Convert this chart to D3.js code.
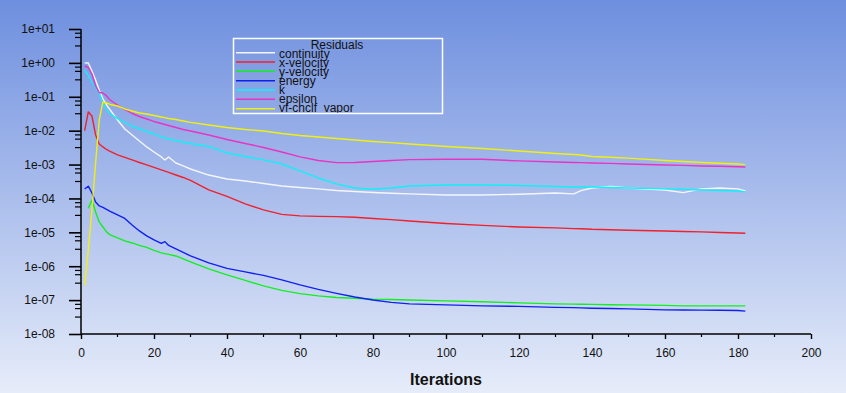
<!DOCTYPE html>
<html>
<head>
<meta charset="utf-8">
<script src="https://cdn.jsdelivr.net/npm/d3@7"></script>
<style>
  html, body { margin: 0; padding: 0; overflow: hidden; }
  svg { display: block; font-family: "Liberation Sans", Arial, sans-serif; }
</style>
</head>
<body>
<svg id="chart" width="846" height="393"></svg>
<script>
// ---------- data ----------
const iterations = [1,2,3,4,5,6,7,8,10,12,14,16,18,20,22,23,24,26,28,30,35,40,45,50,55,60,65,70,75,80,85,90,100,110,120,130,135,137,140,145,150,160,165,170,175,180,182];

const continuity = [1.0,0.99,0.577,0.313,0.159,0.0861,0.0573,0.0408,0.0207,0.0112,0.00747,0.00497,0.00331,0.00235,0.00168,0.00137,0.00168,0.00111,0.00091,0.00074,0.00049,0.000376,0.000328,0.000277,0.000234,0.000211,0.000191,0.000172,0.000161,0.000150,0.000142,0.000136,0.000127,0.000127,0.000133,0.000145,0.000136,0.000170,0.000204,0.000226,0.000204,0.000178,0.000148,0.000191,0.000204,0.000191,0.000166];

const xVelocity = [0.0100,0.0356,0.0271,0.00747,0.00405,0.00331,0.00279,0.00243,0.00192,0.00162,0.00137,0.00115,0.000973,0.000821,0.000693,0.000638,0.000585,0.000493,0.000416,0.000340,0.000178,0.000115,6.89e-5,4.58e-5,3.38e-5,3.05e-5,2.95e-5,2.91e-5,2.79e-5,2.57e-5,2.37e-5,2.17e-5,1.83e-5,1.60e-5,1.44e-5,1.35e-5,1.29e-5,1.28e-5,1.23e-5,1.19e-5,1.15e-5,1.10e-5,1.06e-5,1.03e-5,9.93e-6,9.60e-6,9.40e-6];

const yVelocity = [null,5.14e-5,9.03e-5,4.0e-5,2.03e-5,1.44e-5,1.03e-5,8.38e-6,6.84e-6,5.57e-6,4.86e-6,4.11e-6,3.59e-6,2.92e-6,2.47e-6,2.35e-6,2.23e-6,2.01e-6,1.64e-6,1.34e-6,8.32e-7,5.53e-7,3.81e-7,2.62e-7,1.93e-7,1.55e-7,1.33e-7,1.20e-7,1.14e-7,1.07e-7,1.04e-7,1.01e-7,9.47e-8,8.97e-8,8.27e-8,7.73e-8,7.6e-8,7.55e-8,7.46e-8,7.3e-8,7.22e-8,6.98e-8,6.74e-8,6.74e-8,6.74e-8,6.74e-8,6.74e-8];

const energy = [1.9e-4,2.3e-4,1.45e-4,7.89e-5,6.01e-5,5.43e-5,4.74e-5,4.14e-5,3.26e-5,2.57e-5,1.65e-5,1.10e-5,7.83e-6,5.97e-6,4.71e-6,5.32e-6,4.11e-6,3.24e-6,2.55e-6,2.01e-6,1.25e-6,8.61e-7,6.79e-7,5.35e-7,3.94e-7,2.81e-7,2.07e-7,1.58e-7,1.24e-7,1.01e-7,8.55e-8,7.73e-8,7.22e-8,6.74e-8,6.52e-8,6.09e-8,6.01e-8,5.9e-8,5.77e-8,5.65e-8,5.50e-8,5.14e-8,5.1e-8,5.07e-8,5.0e-8,4.93e-8,4.74e-8];

const kResid = [0.617,0.425,0.273,0.182,0.129,0.0656,0.0408,0.0311,0.0226,0.0177,0.0135,0.0114,0.00947,0.00799,0.00652,0.00609,0.00569,0.00514,0.00464,0.00419,0.00342,0.00220,0.00173,0.00137,0.00104,0.000648,0.000402,0.000268,0.000204,0.000187,0.000204,0.000234,0.000250,0.000250,0.000242,0.000226,0.000218,0.000218,0.000218,0.000211,0.000204,0.000191,0.000187,0.000178,0.000172,0.000166,0.000156];

const epsilon = [0.810,0.732,0.471,0.208,0.134,0.129,0.106,0.0805,0.0573,0.0422,0.0321,0.0262,0.0221,0.0187,0.0163,0.0152,0.0142,0.0124,0.0108,0.00979,0.00747,0.00550,0.00419,0.00319,0.00235,0.00168,0.00132,0.00114,0.00115,0.00123,0.00132,0.00140,0.00143,0.00143,0.00128,0.00119,0.00115,0.00114,0.00111,0.00108,0.00104,0.000973,0.000946,0.000910,0.000891,0.000861,0.000849];

const vfVapor = [2.8e-7,2.99e-6,4.52e-5,0.00111,0.0207,0.0703,0.0656,0.0593,0.0535,0.0437,0.0381,0.0333,0.0311,0.0281,0.0254,0.0242,0.0229,0.0214,0.0193,0.0175,0.0147,0.0124,0.0108,0.00979,0.00826,0.00721,0.00652,0.00589,0.00532,0.00480,0.00443,0.00405,0.00342,0.00299,0.00252,0.00212,0.00199,0.00192,0.00173,0.00164,0.00155,0.00132,0.00123,0.00115,0.00109,0.00104,0.000993];

const seriesNames = ["continuity","x-velocity","y-velocity","energy","k","epsilon","vf-chclf_vapor"];
const seriesColors = ["#f4f6fc","#f0202c","#10f020","#1020f0","#10f0f8","#e834c4","#f0f010"];
const seriesValues = [continuity, xVelocity, yVelocity, energy, kResid, epsilon, vfVapor];

const xTickValues = [0,20,40,60,80,100,120,140,160,180,200];
const xMinorTickValues = [10,30,50,70,90,110,130,150,170,190];
const yTickValues = [10,1,1e-1,1e-2,1e-3,1e-4,1e-5,1e-6,1e-7,1e-8];
const yTickLabels = ["1e+01","1e+00","1e-01","1e-02","1e-03","1e-04","1e-05","1e-06","1e-07","1e-08"];
const legendTitle = "Residuals";
const xAxisTitle = "Iterations";

// ---------- drawing ----------
const svg = d3.select("#chart");
const W = 846, H = 393;

const defs = svg.append("defs");
const grad = defs.append("linearGradient").attr("id","bg").attr("x1",0).attr("y1",0).attr("x2",0).attr("y2",1);
grad.append("stop").attr("offset","0%").attr("stop-color","#6e8fdf");
grad.append("stop").attr("offset","100%").attr("stop-color","#e6ecf9");
svg.append("rect").attr("width",W).attr("height",H).attr("fill","url(#bg)");

const x = d3.scaleLinear().domain([0,200]).range([81,811]);
const y = d3.scaleLog().domain([1e-8,10]).range([334,29]);

// series lines
const line = d3.line()
  .defined(d => d[1] != null)
  .x(d => x(d[0]))
  .y(d => y(d[1]));

seriesValues.forEach((vals, i) => {
  const pts = iterations.map((it, j) => [it, vals[j]]);
  svg.append("path")
    .datum(pts)
    .attr("fill","none")
    .attr("stroke", seriesColors[i])
    .attr("stroke-width", 1.4)
    .attr("stroke-linejoin","round")
    .attr("d", line);
});

// Y axis
const yAxis = d3.axisLeft(y).tickValues(yTickValues).tickSize(12)
  .tickFormat((d,i) => yTickLabels[i]).tickPadding(14);
const gy = svg.append("g").attr("transform","translate(81,0)").call(yAxis);
gy.select(".domain").attr("stroke","#000").attr("stroke-width",1.5).attr("d","M0,29V334");
gy.selectAll(".tick line").attr("stroke","#000").attr("stroke-width",1.6);
gy.selectAll(".tick text").attr("fill","#111").attr("font-size","12px")
  .attr("font-family",'"Liberation Sans", Arial, sans-serif');

// minor y ticks at 1/8, 1/4, 1/2 of each decade below each major
const minorY = [];
yTickValues.slice(0,-1).forEach(v => {
  [0.125,0.25,0.5].forEach(f => minorY.push(v * Math.pow(10,-f)));
});
svg.append("g").selectAll("line").data(minorY).join("line")
  .attr("x1",75).attr("x2",81)
  .attr("y1",d => y(d)).attr("y2",d => y(d))
  .attr("stroke","#000").attr("stroke-width",1.2);

// X axis
const xAxis = d3.axisBottom(x).tickValues(xTickValues).tickSize(5).tickPadding(9);
const gx = svg.append("g").attr("transform","translate(0,334)").call(xAxis);
gx.select(".domain").attr("stroke","#000").attr("stroke-width",1.5).attr("d","M81,0H811");
gx.selectAll(".tick line").attr("stroke","#000").attr("stroke-width",1.4);
gx.selectAll(".tick text").attr("fill","#111").attr("font-size","12px")
  .attr("font-family",'"Liberation Sans", Arial, sans-serif');
svg.append("g").selectAll("line").data(xMinorTickValues).join("line")
  .attr("x1",d => x(d)).attr("x2",d => x(d))
  .attr("y1",334).attr("y2",337)
  .attr("stroke","#000").attr("stroke-width",1.2);

// X title
svg.append("text").attr("x",446).attr("y",385).attr("text-anchor","middle")
  .attr("font-size","16px").attr("font-weight","bold").attr("fill","#111")
  .text(xAxisTitle);

// Legend
const lg = { x: 233.5, y: 38.5, w: 209, h: 75 };
defs.append("clipPath").attr("id","legclip").append("rect")
  .attr("x",lg.x).attr("y",lg.y).attr("width",lg.w).attr("height",lg.h);
const leg = svg.append("g").attr("clip-path","url(#legclip)");
leg.append("text").attr("x",337).attr("y",49).attr("text-anchor","middle")
  .attr("font-size","12px").attr("fill","#111").text(legendTitle);
seriesNames.forEach((name, i) => {
  const ly = 52.7 + i * 9.33;
  leg.append("line").attr("x1",236).attr("x2",275).attr("y1",ly).attr("y2",ly)
    .attr("stroke",seriesColors[i]).attr("stroke-width",1.5);
  leg.append("text").attr("x",279).attr("y",58 + i * 9.0)
    .attr("font-size","12px").attr("fill","#111").text(name);
});
svg.append("rect").attr("x",lg.x).attr("y",lg.y).attr("width",lg.w).attr("height",lg.h)
  .attr("fill","none").attr("stroke","#ffffff").attr("stroke-width",1.5);
</script>
</body>
</html>
